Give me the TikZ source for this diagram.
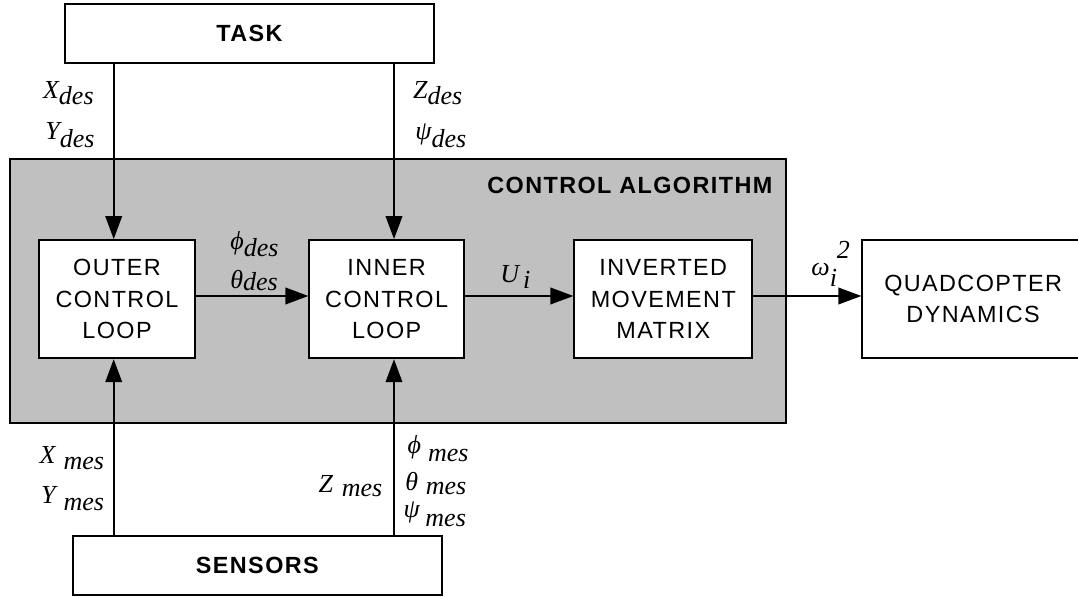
\documentclass[tikz,border=0pt]{standalone}
\usepackage{fontspec}
\usetikzlibrary{arrows.meta}
\newfontfamily\boxfont[LetterSpace=6]{Liberation Sans}
\newfontfamily\mfont{Liberation Serif}
\definecolor{ctrlgray}{RGB}{192,192,192}
\newcommand{\lab}[4]{{\mfont\itshape #1\hspace{#2}\raisebox{-#3}{#4}}}
\begin{document}
\begin{tikzpicture}[x=0.5pt,y=-0.5pt,
  blk/.style={draw=black,line width=0.9pt,fill=white,inner sep=0pt,align=center,
    font=\boxfont\fontsize{11.7}{15.65}\selectfont},
  arr/.style={line width=0.9pt,-{Triangle[length=11.5pt,width=8.3pt]}},
  lbl/.style={inner sep=0pt,anchor=base west,font=\fontsize{13}{15}\selectfont}]
\useasboundingbox (0,0) rectangle (1078,597);
% control algorithm background
\node[draw=black,line width=0.9pt,fill=ctrlgray,inner sep=0pt,minimum width=387.85pt,minimum height=132pt] (ctrl) at (397.85,291.3) {};
\node[inner sep=0pt,anchor=base east,font=\boxfont\bfseries\fontsize{11.7}{15.65}\selectfont] (ctrltitle) at (772.7,193.3) {CONTROL ALGORITHM};
% blocks
\node[blk,minimum width=184.5pt,minimum height=29.35pt,font=\boxfont\bfseries\fontsize{11.7}{15.65}\selectfont] (task) at (249.5,33.65) {TASK};
\node[blk,minimum width=184.65pt,minimum height=29.5pt,font=\boxfont\bfseries\fontsize{11.7}{15.65}\selectfont] (sensors) at (257.35,565.2) {SENSORS};
\node[blk,minimum width=77.7pt,minimum height=59.15pt] (outer) at (117,299.15) {OUTER\\CONTROL\\LOOP};
\node[blk,minimum width=77.35pt,minimum height=59.15pt] (inner) at (386.65,299.15) {INNER\\CONTROL\\LOOP};
\node[blk,minimum width=89pt,minimum height=59.15pt] (inv) at (663.3,299.15) {INVERTED\\MOVEMENT\\MATRIX};
\node[blk,minimum width=110.85pt,minimum height=59.15pt] (quad) at (973.15,299.15) {QUADCOPTER\\DYNAMICS};
% reference coordinates for connector positions
\coordinate (xL) at (113.7,0);
\coordinate (xR) at (394,0);
\coordinate (yH) at (0,296);
% connectors
\draw[arr] (task.south -| xL) -- (outer.north -| xL);
\draw[arr] (task.south -| xR) -- (inner.north -| xR);
\draw[arr] (sensors.north -| xL) -- (outer.south -| xL);
\draw[arr] (sensors.north -| xR) -- (inner.south -| xR);
\draw[arr] (outer.east |- yH) -- (inner.west |- yH);
\draw[arr] (inner.east |- yH) -- (inv.west |- yH);
\draw[arr] (inv.east |- yH) -- (quad.west |- yH);
% labels
\node[lbl] (lxd) at (42.7,98.3) {\lab{X}{0pt}{3.3pt}{des}};
\node[lbl] (lyd) at (45,140) {\lab{Y}{0pt}{4pt}{des}};
\node[lbl] (lzd) at (412.7,98.3) {\lab{Z}{0pt}{3.3pt}{des}};
\node[lbl] (lpsid) at (415,140) {\lab{ψ}{0pt}{4pt}{des}};
\node[lbl] (lphid) at (230,250) {\lab{ϕ}{0pt}{3.5pt}{des}};
\node[lbl] (lthd) at (230,289) {\lab{θ}{0pt}{1pt}{des}};
\node[lbl] (lu) at (500,283) {\lab{U}{2pt}{3pt}{i}};
\node[lbl] (lw) at (811,276) {{\mfont\itshape ω\raisebox{-5.5pt}{i}\raisebox{8.5pt}{2}}};
\node[lbl] (lxm) at (39.3,463.3) {\lab{X}{4pt}{3.3pt}{mes}};
\node[lbl] (lym) at (40.7,503.3) {\lab{Y}{4pt}{3.8pt}{mes}};
\node[lbl] (lzm) at (318.3,492.7) {\lab{Z}{4.3pt}{2pt}{mes}};
\node[lbl] (lphim) at (407.3,453.7) {\lab{ϕ}{3.5pt}{4pt}{mes}};
\node[lbl] (lthm) at (405,490.7) {\lab{θ}{3.8pt}{1.7pt}{mes}};
\node[lbl] (lpsim) at (403.3,518) {\lab{ψ}{2.8pt}{4.3pt}{mes}};
\end{tikzpicture}
\end{document}
